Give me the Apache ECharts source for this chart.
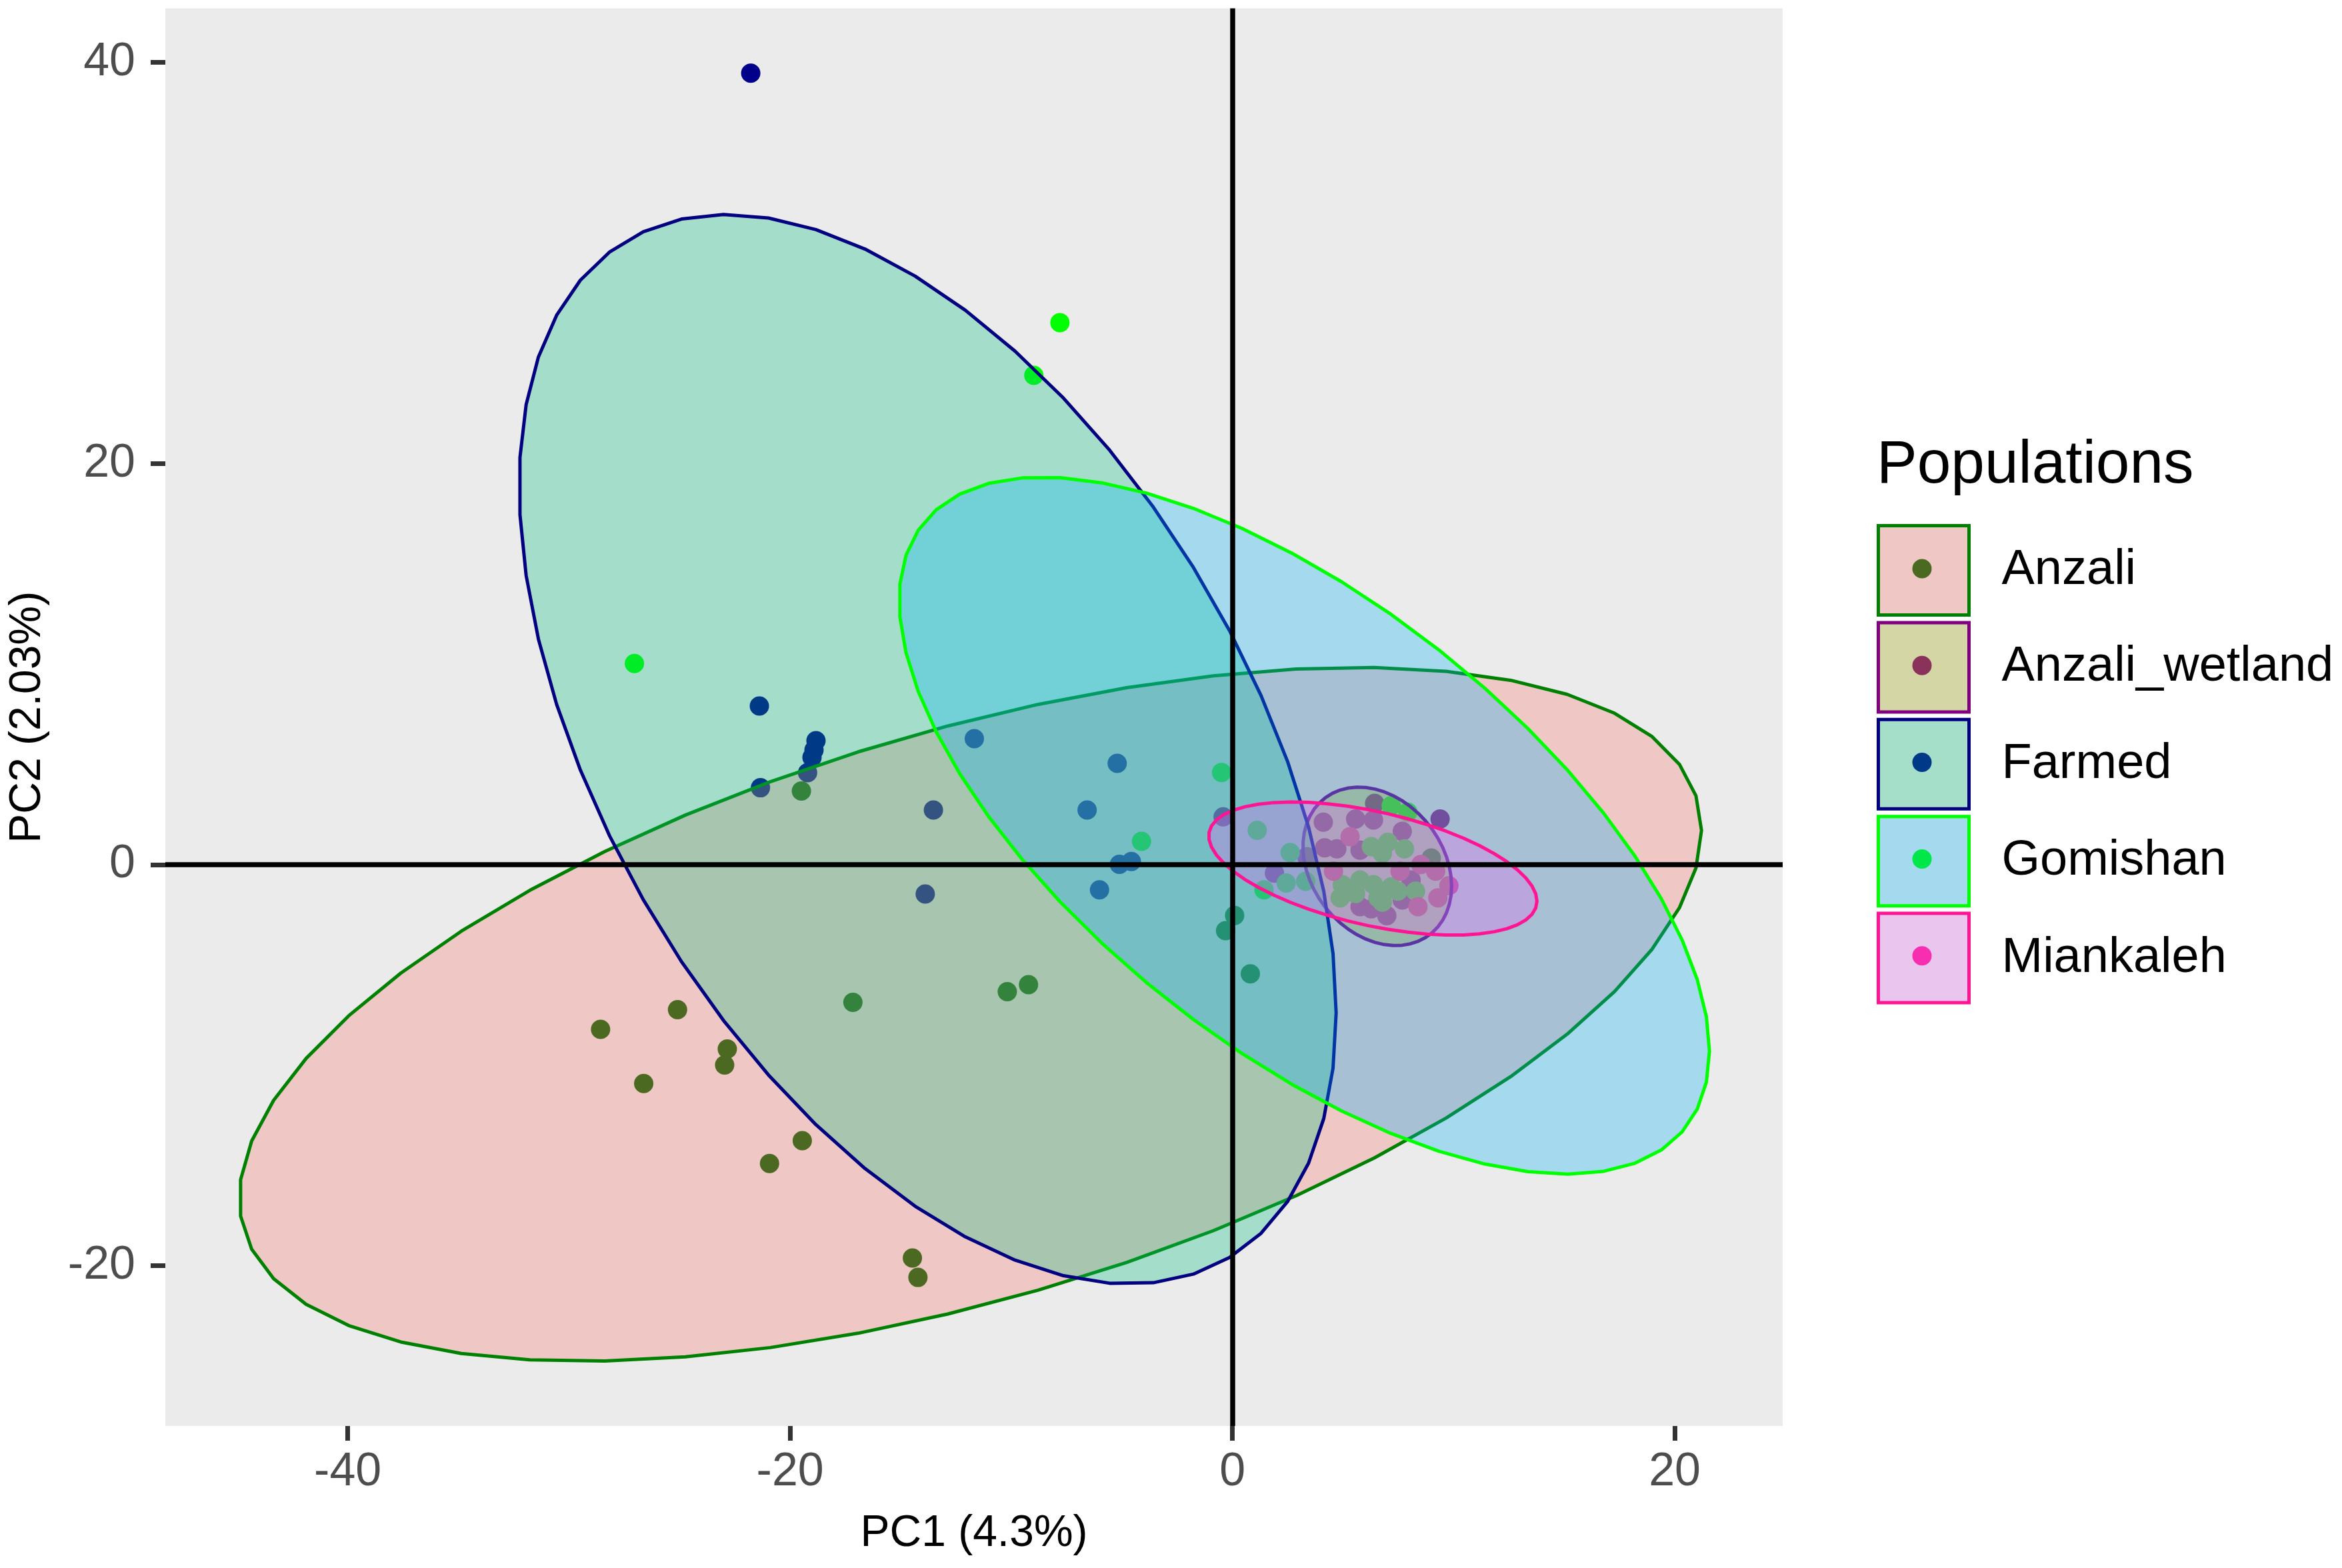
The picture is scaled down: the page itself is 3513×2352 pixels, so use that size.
<!DOCTYPE html>
<html>
<head>
<meta charset="utf-8">
<script src="https://cdn.jsdelivr.net/npm/echarts@6/dist/echarts.min.js"></script>
<style>
html,body{margin:0;padding:0;background:#ffffff;}
#chart{width:3513px;height:2352px;}
</style>
</head>
<body>
<div id="chart"></div>
<script>
// ---------- data ----------
const populations = ['Anzali', 'Anzali_wetland', 'Farmed', 'Gomishan', 'Miankaleh'];

const anzaliPoints = [
  [-28.57, -8.22], [-25.09, -7.24], [-22.84, -9.20], [-22.96, -10.00], [-26.62, -10.92],
  [-17.16, -6.87], [-19.45, -13.77], [-20.93, -14.91], [-14.47, -19.62], [-14.22, -20.59],
  [-19.49, 3.67], [-9.22, -5.99], [-10.18, -6.34], [0.10, -2.54], [-0.31, -3.30],
  [0.81, -5.45], [8.99, 0.33]
];
const anzaliWetlandPoints = [
  [-0.42, 2.38], [1.90, -0.43], [6.43, 3.05], [9.39, 2.27], [4.11, 2.11],
  [5.57, 2.27], [6.38, 2.22], [7.68, 1.66], [4.17, 0.83], [4.72, 0.78],
  [5.77, 0.72], [5.77, -2.10], [6.98, -2.55], [7.68, -1.77], [6.28, -2.21],
  [8.08, -0.77], [3.36, 0.39]
];
const farmedPoints = [
  [-21.78, 39.47], [-21.39, 7.91], [-18.83, 6.18], [-18.92, 5.71], [-19.01, 5.35],
  [-19.21, 4.58], [-21.34, 3.83], [-11.67, 6.28], [-5.21, 5.05], [-13.52, 2.72],
  [-6.57, 2.72], [-5.11, 0.01], [-4.57, 0.15], [-6.01, -1.26], [-13.89, -1.47]
];
const gomishanPoints = [
  [-7.80, 27.02], [-8.98, 24.40], [-27.04, 10.03], [-0.49, 4.59], [-4.11, 1.16],
  [1.12, 1.71], [2.61, 0.60], [1.43, -1.26], [2.43, -0.92], [3.31, -0.84],
  [7.18, 2.94], [7.93, 2.61], [6.28, 0.89], [7.03, 1.11], [7.78, 0.78],
  [6.78, 0.56], [4.97, -1.00], [5.77, -0.77], [6.38, -1.00], [7.18, -1.11],
  [5.57, -1.44], [4.87, -1.66], [6.58, -1.66], [7.48, -1.33], [8.28, -1.33],
  [6.78, -1.88]
];
const miankalehPoints = [
  [5.32, 1.39], [8.52, 0.00], [9.19, -0.33], [4.57, -0.33], [7.58, -0.33],
  [9.79, -1.05], [9.29, -1.66], [8.39, -2.10]
];
const pointSets = [anzaliPoints, anzaliWetlandPoints, farmedPoints, gomishanPoints, miankalehPoints];

// 95% ellipse parameters per population (centre, spread on x and y, correlation)
const ellipseCenterX = [-11.85, 6.55, -13.78, 3.25, 6.35];
const ellipseCenterY = [-7.47, -0.09, 5.75, 1.94, -0.20];
const ellipseSpreadX = [33.06, 3.36, 18.47, 18.32, 7.42];
const ellipseSpreadY = [17.30, 3.95, 26.67, 17.38, 3.32];
const ellipseRho = [0.53, -0.25, -0.493, -0.647, -0.49];

const xTicks = [-40, -20, 0, 20];
const yTicks = [-20, 0, 20, 40];
const xTitle = 'PC1 (4.3%)';
const yTitle = 'PC2 (2.03%)';
const legendTitle = 'Populations';

// ---------- styles ----------
const pointColors = ['#006400', '#800080', '#00008B', '#00FF00', '#FF1493'];
const fillRGB = [[248, 118, 109], [163, 165, 0], [0, 191, 125], [0, 176, 246], [231, 107, 243]];
const borderColors = ['#008000', '#800080', '#000080', '#00FF00', '#FF1493'];
const legendKeyFill = ['#efc8c5', '#d5d6a5', '#a5dfca', '#a5d9ee', '#eac5ed'];
const legendKeyDot = ['#4a6921', '#8a325a', '#003987', '#00e74a', '#f82eb0'];
const FONT = 'Liberation Sans, Arial, Helvetica, sans-serif';

function rgba(c, a) { return 'rgba(' + c[0] + ',' + c[1] + ',' + c[2] + ',' + a + ')'; }

function ellipseRenderer(i) {
  return function (params, api) {
    const cx = ellipseCenterX[i], cy = ellipseCenterY[i];
    const sx = ellipseSpreadX[i], sy = ellipseSpreadY[i], r = ellipseRho[i];
    const q = Math.sqrt(1 - r * r);
    const pts = [];
    const N = 51;
    for (let k = 0; k < N; k++) {
      const t = 2 * Math.PI * k / N;
      const x = cx + sx * Math.cos(t);
      const y = cy + sy * (r * Math.cos(t) + q * Math.sin(t));
      pts.push(api.coord([x, y]));
    }
    return {
      type: 'polygon',
      shape: { points: pts },
      style: { fill: rgba(fillRGB[i], 0.3), stroke: borderColors[i], lineWidth: 5, lineJoin: 'round' }
    };
  };
}

const series = [];
populations.forEach(function (name, i) {
  series.push({
    type: 'scatter',
    name: name,
    data: pointSets[i],
    symbol: 'circle',
    symbolSize: 29,
    itemStyle: { color: pointColors[i], opacity: 1, borderWidth: 0 },
    emphasis: { disabled: true },
    z: 2
  });
});
populations.forEach(function (name, i) {
  series.push({
    type: 'custom',
    name: name,
    data: [[ellipseCenterX[i], ellipseCenterY[i]]],
    encode: { x: 0, y: 1 },
    renderItem: ellipseRenderer(i),
    clip: true,
    silent: true,
    z: 3
  });
});
series.push({
  type: 'line',
  name: 'zero',
  data: [],
  z: 4,
  markLine: {
    silent: true,
    symbol: ['none', 'none'],
    label: { show: false },
    lineStyle: { color: '#000000', width: 7.5, type: 'solid' },
    emphasis: { disabled: true },
    data: [{ xAxis: 0 }, { yAxis: 0 }]
  }
});

const option = {
  animation: false,
  backgroundColor: '#ffffff',
  textStyle: { fontFamily: FONT },
  title: {
    text: legendTitle,
    left: 2815,
    top: 653,
    padding: 0,
    textStyle: { fontSize: 91, fontWeight: 'normal', color: '#000000', fontFamily: FONT }
  },
  grid: {
    left: 248, right: 839, top: 12.5, bottom: 213,
    show: true, backgroundColor: '#ebebeb', borderWidth: 0
  },
  xAxis: {
    type: 'value',
    min: -48.25, max: 24.88,
    name: xTitle,
    nameLocation: 'middle',
    nameGap: 129,
    nameTextStyle: { fontSize: 66, color: '#000000', fontFamily: FONT },
    axisLine: { show: false, onZero: false },
    splitLine: { show: false },
    axisTick: { show: true, inside: false, length: 22, lineStyle: { color: '#333333', width: 7 }, customValues: xTicks },
    axisLabel: { fontSize: 70, color: '#4d4d4d', margin: 35, fontFamily: FONT, customValues: xTicks }
  },
  yAxis: {
    type: 'value',
    min: -28.0, max: 42.7,
    name: yTitle,
    nameLocation: 'middle',
    nameRotate: 90,
    nameGap: 173,
    nameTextStyle: { fontSize: 66, color: '#000000', fontFamily: FONT },
    axisLine: { show: false, onZero: false },
    splitLine: { show: false },
    axisTick: { show: true, inside: false, length: 22, lineStyle: { color: '#333333', width: 7 }, customValues: yTicks },
    axisLabel: { fontSize: 70, color: '#4d4d4d', margin: 45, fontFamily: FONT, customValues: yTicks }
  },
  legend: [
    {
      orient: 'vertical',
      left: 2815,
      top: 786,
      padding: 0,
      itemWidth: 136,
      itemHeight: 134,
      itemGap: 6.4,
      selectedMode: false,
      data: populations.map(function (name, i) {
        return {
          name: name,
          icon: 'rect',
          itemStyle: { color: legendKeyFill[i], borderColor: borderColors[i], borderWidth: 5, opacity: 1 }
        };
      }),
      formatter: function (name) { return '{t|' + name + '}'; },
      textStyle: {
        color: '#000000', fontSize: 74, fontFamily: FONT,
        rich: { t: { fontSize: 74, color: '#000000', fontFamily: FONT, padding: [0, 0, 0, 44] } }
      }
    },
    {
      orient: 'vertical',
      left: 2868.5,
      top: 838.5,
      padding: 0,
      itemWidth: 29,
      itemHeight: 29,
      itemGap: 116.2,
      selectedMode: false,
      data: populations.map(function (name, i) {
        return {
          name: name,
          icon: 'circle',
          itemStyle: { color: legendKeyDot[i], borderWidth: 0, opacity: 1 }
        };
      }),
      formatter: function () { return ''; },
      textStyle: { fontSize: 1, lineHeight: 1 }
    }
  ],
  series: series
};

const chart = echarts.init(document.getElementById('chart'), null, { renderer: 'canvas', width: 3513, height: 2352 });
chart.setOption(option);
</script>
</body>
</html>
